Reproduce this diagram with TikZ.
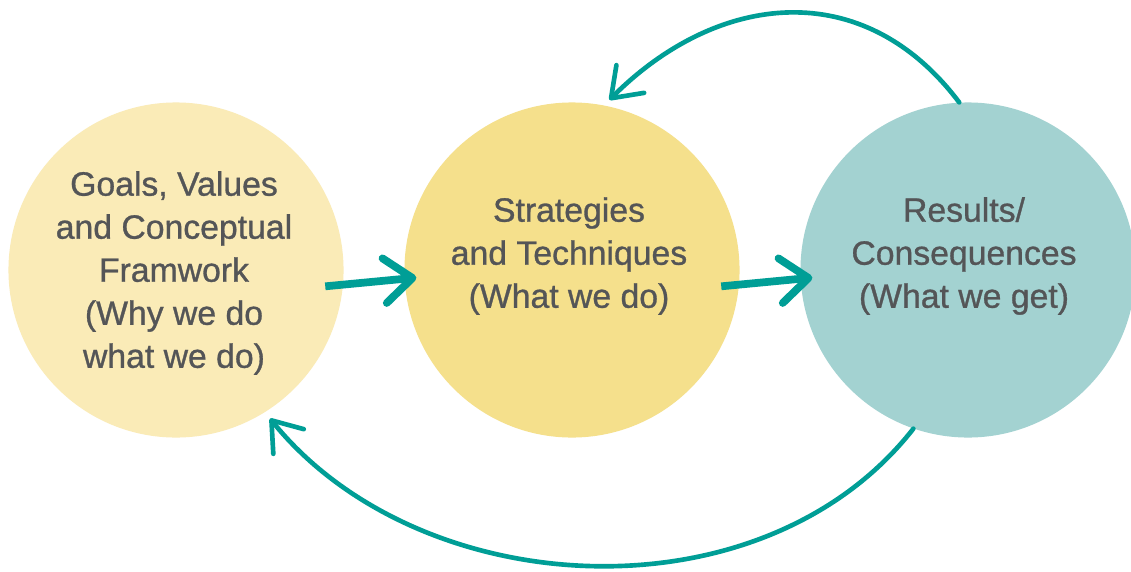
\documentclass[tikz,border=0pt]{standalone}
\usepackage{fontspec}
\setmainfont{Liberation Sans}
\newfontfamily\lblfont{Liberation Sans}[FakeBold=0.9]
\usepackage{xcolor}
\usetikzlibrary{arrows.meta}

\definecolor{goalfill}{HTML}{FAEBB7}
\definecolor{stratfill}{HTML}{F5E08C}
\definecolor{resfill}{HTML}{A3D2D1}
\definecolor{arrowteal}{HTML}{009E96}
\definecolor{textgray}{HTML}{545557}

\begin{document}
\begin{tikzpicture}[x=0.025cm, y=0.025cm,
    stage/.style={circle, draw=none, inner sep=0pt, minimum size=8.375cm},
    lbl/.style={align=center, text=textgray, font=\lblfont\fontsize{24}{30.6}\selectfont},
    fwdarrow/.style={draw=arrowteal, line width=5.5pt,
        -{Straight Barb[round, length=0.7cm, width=1.12cm]},
        shorten <=-0.45cm, shorten >=-0.3cm},
    backarrow/.style={draw=arrowteal, line width=3.3pt, line cap=round,
        -{Straight Barb[round, length=0.68cm, width=0.98cm]}}]

        % Frame
        \useasboundingbox (0,0) rectangle (1131,-572);
        \fill[white] (0,0) rectangle (1131,-572);

        % Circles
        \node[stage, fill=goalfill] (goal) at (176,-270) {};
        \node[stage, fill=stratfill] (strat) at (572,-270) {};
        \node[stage, fill=resfill] (res) at (968,-270) {};

        % Labels
        \node[lbl] (goaltxt) at (174,-273) {Goals, Values\\and Conceptual\\Framwork\\(Why we do\\what we do)};
        \node[lbl] (strattxt) at (569,-256) {Strategies\\and Techniques\\(What we do)};
        \node[lbl] (restxt) at (964,-256) {Results/\\Consequences\\(What we get)};

        % Connections
        \draw[fwdarrow] (goal.-5) -- (strat.183);
        \draw[fwdarrow] (strat.-5) -- (res.183);
        \draw[backarrow, shorten >=0.19cm] (res.93) .. controls +(127:160) and +(45:160) .. (strat.79);
        \draw[backarrow, shorten >=0.2cm] (res.251) .. controls +(232:246) and +(309:246) .. (goal.302);
    \end{tikzpicture}
\end{document}
